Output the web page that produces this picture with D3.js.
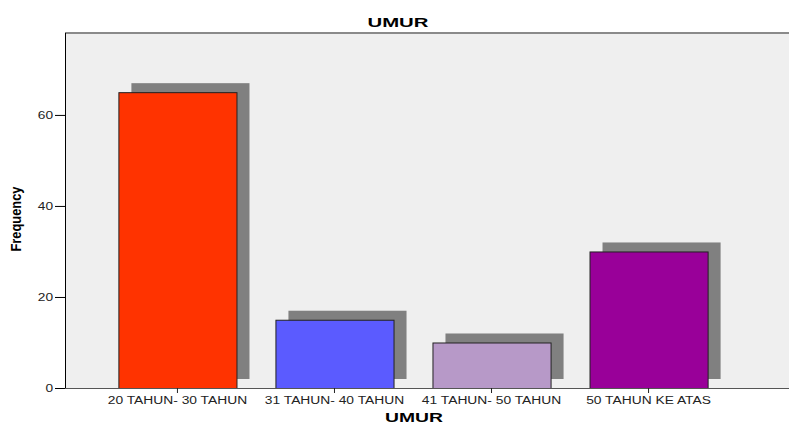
<!DOCTYPE html>
<html>
<head>
<meta charset="utf-8">
<script src="https://cdn.jsdelivr.net/npm/d3@7"></script>
<style>
  body { margin: 0; background: #fff; }
  svg { display: block; font-family: "Liberation Sans", Arial, sans-serif; }
</style>
</head>
<body>
<svg id="chart" width="789" height="425"></svg>
<script>
  // data
  var categories = ['20 TAHUN- 30 TAHUN', '31 TAHUN- 40 TAHUN', '41 TAHUN- 50 TAHUN', '50 TAHUN KE ATAS'];
  var frequencies = [65, 15, 10, 30];
  var barColors = ['#ff3300', '#5b5bff', '#b799c8', '#990099'];
  var yTicks = [0, 20, 40, 60];

  var svg = d3.select('#chart');
  var plotLeft = 65, plotRight = 789, plotTop = 33, plotBottom = 388;

  // the picture is stretched sideways, so widen the texts
  function widen(sel, k) {
    sel.each(function() {
      var w = this.getComputedTextLength();
      d3.select(this).attr('textLength', w * k).attr('lengthAdjust', 'spacingAndGlyphs');
    });
  }

  var x = d3.scaleBand()
    .domain(categories)
    .range([plotLeft, 761])
    .paddingInner(0.248)
    .paddingOuter(0.34);

  var y = d3.scaleLinear()
    .domain([0, 78])
    .range([plotBottom, plotTop]);

  // plot background
  svg.append('rect')
    .attr('x', plotLeft).attr('y', plotTop)
    .attr('width', plotRight - plotLeft).attr('height', plotBottom - plotTop)
    .attr('fill', '#efefef');

  svg.append('line')
    .attr('x1', plotLeft).attr('x2', plotRight)
    .attr('y1', plotTop).attr('y2', plotTop)
    .attr('stroke', '#8a8a8a').attr('stroke-width', 2);

  var data = categories.map(function(c, i) { return {cat: c, value: frequencies[i], color: barColors[i]}; });

  // shadows, shifted right and up
  svg.selectAll('rect.shadow')
    .data(data)
    .enter().append('rect')
    .attr('class', 'shadow')
    .attr('x', function(d) { return x(d.cat) + 13; })
    .attr('y', function(d) { return y(d.value) - 9; })
    .attr('width', x.bandwidth())
    .attr('height', function(d) { return plotBottom - y(d.value); })
    .attr('fill', '#808080');

  svg.selectAll('rect.bar')
    .data(data)
    .enter().append('rect')
    .attr('class', 'bar')
    .attr('x', function(d) { return x(d.cat) + 0.5; })
    .attr('y', function(d) { return y(d.value) + 0.5; })
    .attr('width', x.bandwidth())
    .attr('height', function(d) { return plotBottom - y(d.value); })
    .attr('fill', function(d) { return d.color; })
    .attr('stroke', '#222')
    .attr('stroke-width', 1);

  // y axis
  var yAxis = svg.append('g')
    .attr('transform', 'translate(' + plotLeft + ',0)')
    .call(d3.axisLeft(y).tickValues(yTicks).tickSize(10).tickPadding(2));
  yAxis.select('.domain').attr('stroke', '#000').attr('d', 'M0.5,' + plotTop + 'V' + plotBottom);
  yAxis.selectAll('.tick line').attr('stroke', '#000');
  yAxis.selectAll('.tick text').attr('font-size', 10).attr('fill', '#222')
    .attr('font-family', '"Liberation Sans", Arial, sans-serif')
    .call(widen, 1.37);

  // x axis
  var xAxis = svg.append('g')
    .attr('transform', 'translate(0,' + plotBottom + ')')
    .call(d3.axisBottom(x).tickSize(5).tickPadding(4));
  xAxis.select('.domain').attr('stroke', '#555').attr('d', 'M' + plotLeft + ',0.5H' + plotRight);
  xAxis.selectAll('.tick line').attr('stroke', '#222');
  xAxis.selectAll('.tick text').attr('font-size', 10).attr('fill', '#222')
    .attr('font-family', '"Liberation Sans", Arial, sans-serif')
    .call(widen, 1.38);

  // titles
  svg.append('text')
    .attr('x', 398).attr('y', 27)
    .attr('text-anchor', 'middle')
    .attr('font-size', 13).attr('font-weight', 'bold')
    .attr('textLength', 61).attr('lengthAdjust', 'spacingAndGlyphs')
    .text('UMUR');

  svg.append('text')
    .attr('x', 414).attr('y', 422)
    .attr('text-anchor', 'middle')
    .attr('font-size', 13).attr('font-weight', 'bold')
    .attr('textLength', 58).attr('lengthAdjust', 'spacingAndGlyphs')
    .text('UMUR');

  svg.append('text')
    .attr('transform', 'translate(21,219) rotate(-90) scale(1,1.25)')
    .attr('text-anchor', 'middle')
    .attr('font-size', 12).attr('font-weight', 'bold')
    .attr('textLength', 65).attr('lengthAdjust', 'spacingAndGlyphs')
    .text('Frequency');
</script>
</body>
</html>
